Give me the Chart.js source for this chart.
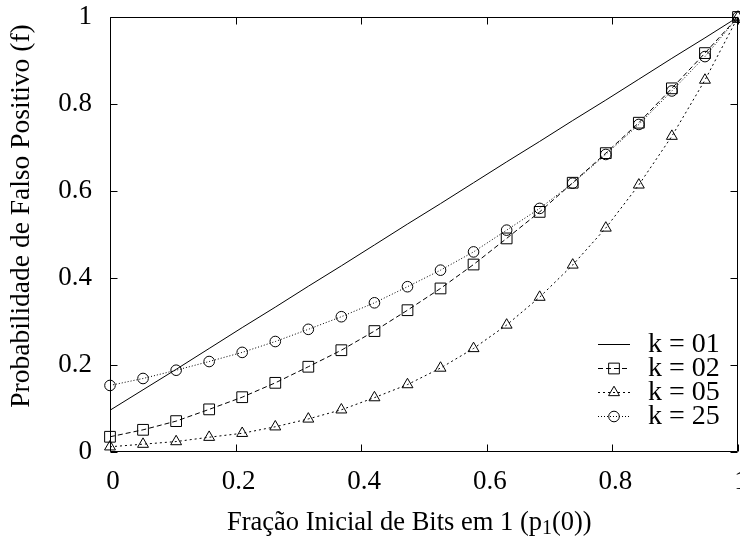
<!DOCTYPE html>
<html>
<head>
<meta charset="utf-8">
<script src="https://cdn.jsdelivr.net/npm/chart.js@4/dist/chart.umd.min.js"></script>
<style>
  html, body { margin: 0; padding: 0; background: #fff; }
  #wrap { width: 740px; height: 542px; position: relative; }
</style>
</head>
<body>
<div id="wrap"><canvas id="c" width="740" height="542"></canvas></div>
<script>
// ---- data ----
const xValues = [0, 0.0526, 0.1053, 0.1579, 0.2105, 0.2632, 0.3158, 0.3684, 0.4211, 0.4737,
                 0.5263, 0.5789, 0.6316, 0.6842, 0.7368, 0.7895, 0.8421, 0.8947, 0.9474, 1];
const k01 = [0.096, 0.143, 0.190, 0.238, 0.286, 0.333, 0.381, 0.428, 0.476, 0.524,
             0.571, 0.619, 0.667, 0.714, 0.762, 0.809, 0.857, 0.905, 0.952, 1.0];
const k02 = [0.035, 0.051, 0.071, 0.098, 0.126, 0.159, 0.196, 0.234, 0.278, 0.326,
             0.376, 0.431, 0.491, 0.552, 0.619, 0.687, 0.757, 0.836, 0.917, 1.0];
const k05 = [0.012, 0.018, 0.024, 0.034, 0.043, 0.058, 0.076, 0.097, 0.125, 0.155,
             0.193, 0.238, 0.292, 0.356, 0.430, 0.515, 0.614, 0.726, 0.855, 1.0];
const k25 = [0.153, 0.169, 0.188, 0.208, 0.229, 0.254, 0.282, 0.311, 0.343, 0.380,
             0.418, 0.460, 0.510, 0.560, 0.618, 0.684, 0.753, 0.830, 0.909, 1.0];
const seriesLabels = ['k = 01', 'k = 02', 'k = 05', 'k = 25'];
const xTicks = [0, 0.2, 0.4, 0.6, 0.8, 1];
const yTicks = [0, 0.2, 0.4, 0.6, 0.8, 1];
const xTitle = ['Fração Inicial de Bits em 1 (p', '1', '(0))'];
const yTitle = 'Probabilidade de Falso Positivo (f)';

const FONT = "'Liberation Serif', 'Times New Roman', serif";
const FSIZE = 27;

function pts(ys) { return xValues.map((x, i) => ({ x: x, y: ys[i] })); }

const styles = [
  { dash: [], pointStyle: false, radius: 0 },
  { dash: [5, 3], pointStyle: 'rect', radius: 7.6 },
  { dash: [2, 3], pointStyle: 'triangle', radius: 6.3 },
  { dash: [1, 2], pointStyle: 'circle', radius: 5.3 }
];
const allSeries = [k01, k02, k05, k25];

const datasets = allSeries.map((ys, i) => ({
  label: seriesLabels[i],
  data: pts(ys),
  borderColor: '#000',
  borderWidth: 1,
  borderDash: styles[i].dash,
  pointStyle: styles[i].pointStyle,
  pointRadius: styles[i].radius,
  pointHoverRadius: styles[i].radius,
  pointBorderColor: '#000',
  pointBackgroundColor: 'rgba(0,0,0,0)',
  pointBorderWidth: 1,
  fill: false,
  tension: 0,
  clip: false
}));

function noPad(s) {
  s.paddingLeft = 0; s.paddingRight = 0; s.paddingTop = 0; s.paddingBottom = 0;
}

const framePlugin = {
  id: 'frame',
  beforeDatasetsDraw(chart) {
    const ctx = chart.ctx;
    const a = chart.chartArea;
    const xs = chart.scales.x, ys = chart.scales.y;
    ctx.save();
    ctx.strokeStyle = '#000';
    ctx.lineWidth = 1;
    ctx.setLineDash([]);
    const L = Math.round(a.left) + 0.5, R = Math.round(a.right) - 0.5;
    const T = Math.round(a.top) + 0.5, B = Math.round(a.bottom) - 0.5;
    ctx.beginPath();
    ctx.rect(L, T, R - L, B - T);
    ctx.stroke();
    const tl = 7;
    ctx.beginPath();
    xs.ticks.forEach(t => {
      const px = Math.round(xs.getPixelForValue(t.value)) + 0.5;
      ctx.moveTo(px, B); ctx.lineTo(px, B - tl);
      ctx.moveTo(px, T); ctx.lineTo(px, T + tl);
    });
    ys.ticks.forEach(t => {
      const py = Math.round(ys.getPixelForValue(t.value)) + 0.5;
      ctx.moveTo(L, py); ctx.lineTo(L + tl, py);
      ctx.moveTo(R, py); ctx.lineTo(R - tl, py);
    });
    ctx.stroke();
    ctx.restore();
  },
  afterDraw(chart) {
    const ctx = chart.ctx;
    ctx.save();
    ctx.fillStyle = '#000';
    ctx.strokeStyle = '#000';
    ctx.textBaseline = 'middle';
    // legend
    const rows = [344, 368, 392, 416];
    chart.data.datasets.forEach((ds, i) => {
      const y = rows[i];
      ctx.save();
      ctx.lineWidth = 1;
      ctx.setLineDash(ds.borderDash || []);
      ctx.beginPath();
      ctx.moveTo(598, y + 0.5); ctx.lineTo(630, y + 0.5);
      ctx.stroke();
      ctx.restore();
      if (ds.pointStyle) {
        ctx.save();
        ctx.setLineDash([]);
        ctx.lineWidth = 1;
        ctx.fillStyle = 'rgba(0,0,0,0)';
        Chart.helpers.drawPoint(ctx, { pointStyle: ds.pointStyle, radius: ds.pointRadius, borderWidth: 1, rotation: 0 }, 614, y + 0.5);
        ctx.restore();
      }
      ctx.font = '28px ' + FONT;
      ctx.textAlign = 'left';
      ctx.fillText(ds.label, 648, y + 1);
    });
    // x title with subscript
    ctx.textAlign = 'left';
    const y0 = 523;
    const XF = 26.5;
    let x = 227;
    ctx.font = XF + 'px ' + FONT;
    ctx.fillText(xTitle[0], x, y0);
    x += ctx.measureText(xTitle[0]).width;
    ctx.font = Math.round(XF * 0.75) + 'px ' + FONT;
    ctx.fillText(xTitle[1], x, y0 + 6);
    x += ctx.measureText(xTitle[1]).width;
    ctx.font = XF + 'px ' + FONT;
    ctx.fillText(xTitle[2], x, y0);
    // y title
    ctx.save();
    ctx.translate(22, 216);
    ctx.rotate(-Math.PI / 2);
    ctx.textAlign = 'center';
    ctx.font = '27.5px ' + FONT;
    ctx.fillText(yTitle, 0, 0);
    ctx.restore();
    ctx.restore();
  }
};

new Chart(document.getElementById('c'), {
  type: 'line',
  data: { datasets: datasets },
  options: {
    responsive: false,
    animation: false,
    devicePixelRatio: 1,
    layout: { autoPadding: false, padding: { top: 17, right: 2, left: 0, bottom: 0 } },
    plugins: { legend: { display: false }, tooltip: { enabled: false } },
    scales: {
      x: {
        type: 'linear',
        min: 0, max: 1,
        afterBuildTicks(s) { s.ticks = xTicks.map(v => ({ value: v })); },
        afterFit(s) { s.height = 90; noPad(s); },
        grid: { display: true, drawOnChartArea: false, drawTicks: false },
        border: { display: false },
        ticks: {
          padding: 14,
          labelOffset: 3,
          color: '#000',
          maxRotation: 0,
          autoSkip: false,
          font: { family: FONT, size: FSIZE },
          callback: v => String(v)
        },
        title: { display: false }
      },
      y: {
        type: 'linear',
        min: 0, max: 1,
        afterBuildTicks(s) { s.ticks = yTicks.map(v => ({ value: v })); },
        afterFit(s) { s.width = 110; noPad(s); },
        grid: { display: true, drawOnChartArea: false, drawTicks: false },
        border: { display: false },
        ticks: {
          padding: 18,
          color: '#000',
          autoSkip: false,
          font: { family: FONT, size: FSIZE },
          callback: v => String(v)
        },
        title: { display: false }
      }
    }
  },
  plugins: [framePlugin]
});
</script>
</body>
</html>
